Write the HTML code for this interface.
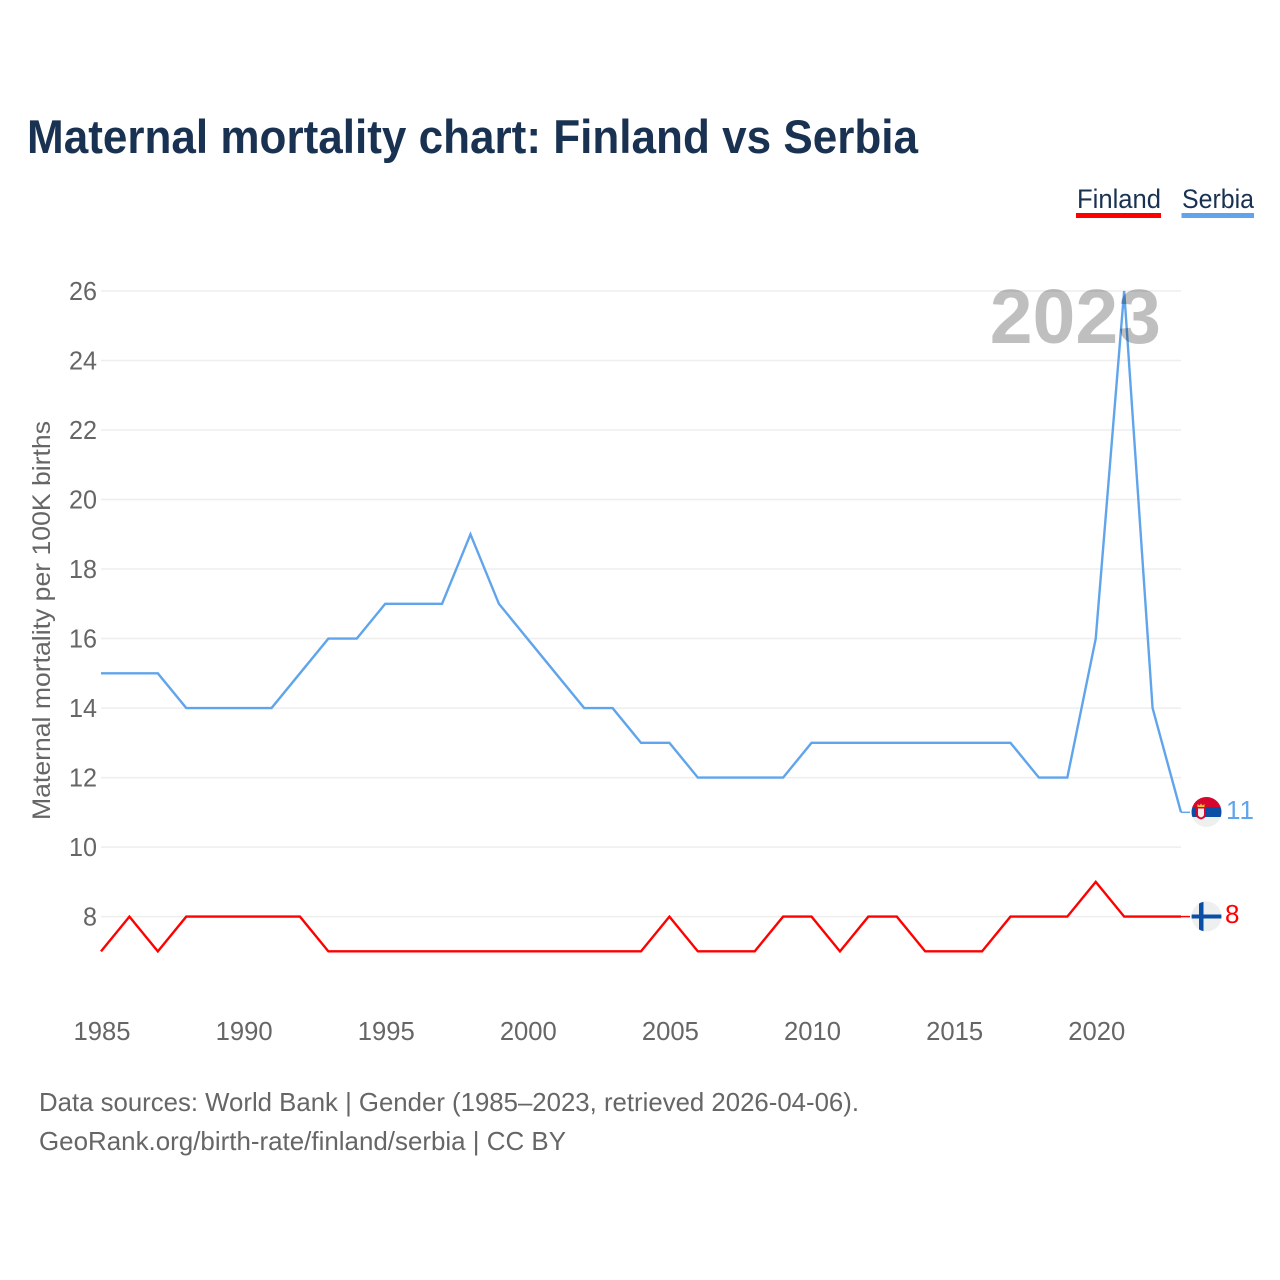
<!DOCTYPE html>
<html lang="en">
<head>
<meta charset="utf-8">
<title>Maternal mortality chart: Finland vs Serbia</title>
<style>
html,body{margin:0;padding:0;background:#fff;width:1280px;height:1280px;overflow:hidden}
svg{display:block;font-family:"Liberation Sans",sans-serif}
</style>
</head>
<body>
<svg id="chart" xmlns="http://www.w3.org/2000/svg" width="1280" height="1280" viewBox="0 0 1280 1280">
  <defs>
    <clipPath id="flag-clip-fi"><circle cx="1206.5" cy="916.5" r="15"/></clipPath>
    <clipPath id="flag-clip-rs"><circle cx="1206.5" cy="812" r="15"/></clipPath>
  </defs>
  <rect width="1280" height="1280" fill="#fff"/>
  <text x="27" y="153" font-size="47" font-weight="700" fill="#193251" textLength="891" lengthAdjust="spacingAndGlyphs">Maternal mortality chart: Finland vs Serbia</text>

  <g>
    <text x="1077" y="208" font-size="27" fill="#193251" textLength="84" lengthAdjust="spacingAndGlyphs">Finland</text>
    <rect x="1076" y="213" width="85" height="5" fill="#ff0000"/>
    <text x="1182" y="208" font-size="27" fill="#193251" textLength="72" lengthAdjust="spacingAndGlyphs">Serbia</text>
    <rect x="1181.5" y="213" width="72.5" height="5" fill="#60a5ec"/>
  </g>

  <g id="grid"></g>
  <g id="y-ticks"></g>
  <g id="x-ticks"></g>
  <text transform="translate(50,820) rotate(-90)" x="0" y="0" font-size="25" fill="#666" textLength="399" lengthAdjust="spacingAndGlyphs">Maternal mortality per 100K births</text>
  <g id="series"></g>
  <text x="1161" y="343" text-anchor="end" font-size="77" font-weight="700" fill="#000" fill-opacity="0.25">2023</text>

  <g id="flags">
    <g clip-path="url(#flag-clip-rs)">
      <rect x="1191" y="797" width="31" height="30" fill="#eef0f0"/>
      <rect x="1191" y="797" width="31" height="10" fill="#d6062f"/>
      <rect x="1191" y="807" width="31" height="10" fill="#0b4ea6"/>
      <path d="M1196 807h10v8q0 3-5 4.500q-5-1.500-5-4.500z" fill="#d6062f"/>
      <path d="M1198 808.500h6v6q0 2-3 3q-3-1-3-3z" fill="#f4eeee"/>
      <path d="M1197.500 807v-3l2 1.500l1.500-2l1.500 2l2-1.500v3z" fill="#f2c230"/>
    </g>
    <g clip-path="url(#flag-clip-fi)">
      <rect x="1191" y="901" width="31" height="31" fill="#eef0f0"/>
      <rect x="1199" y="901" width="4.500" height="31" fill="#0b4ea6"/>
      <rect x="1191" y="914.500" width="31" height="4" fill="#0b4ea6"/>
    </g>
  </g>
  <text id="end-serbia" x="1226" y="819" font-size="26" fill="#60a5ec" textLength="28" lengthAdjust="spacing"></text>
  <text id="end-finland" x="1225" y="923" font-size="26" fill="#ff0000"></text>

  <text x="39" y="1111" font-size="26" fill="#666" textLength="820" lengthAdjust="spacingAndGlyphs">Data sources: World Bank | Gender (1985–2023, retrieved 2026-04-06).</text>
  <text x="39" y="1150" font-size="26" fill="#666" textLength="527" lengthAdjust="spacingAndGlyphs">GeoRank.org/birth-rate/finland/serbia | CC BY</text>
</svg>
<script>
const years = [1985,1986,1987,1988,1989,1990,1991,1992,1993,1994,1995,1996,1997,1998,1999,2000,2001,2002,2003,2004,2005,2006,2007,2008,2009,2010,2011,2012,2013,2014,2015,2016,2017,2018,2019,2020,2021,2022,2023];
const finlandValues = [7,8,7,8,8,8,8,8,7,7,7,7,7,7,7,7,7,7,7,7,8,7,7,7,8,8,7,8,8,7,7,7,8,8,8,9,8,8,8];
const serbiaValues = [15,15,15,14,14,14,14,15,16,16,17,17,17,19,17,16,15,14,14,13,13,12,12,12,12,13,13,13,13,13,13,13,13,12,12,16,26,14,11];
const yTickValues = [8,10,12,14,16,18,20,22,24,26];
const xTickValues = [1985,1990,1995,2000,2005,2010,2015,2020];

const NS = 'http://www.w3.org/2000/svg';
function xScale(year){ return 101 + (year - 1985) * (1181 - 101) / (2023 - 1985); }
function yScale(value){ return 916.6 - (value - 8) * (916.6 - 291) / (26 - 8); }

const gridGroup = document.getElementById('grid');
const yTickGroup = document.getElementById('y-ticks');
const xTickGroup = document.getElementById('x-ticks');
const seriesGroup = document.getElementById('series');

yTickValues.forEach(function(v){
  const line = document.createElementNS(NS, 'line');
  
  
  line.setAttribute('x1', xScale(1985));
  line.setAttribute('x2', xScale(2023));
  line.setAttribute('y1', yScale(v));
  line.setAttribute('y2', yScale(v));
  line.setAttribute('stroke', '#eeeeee');
  line.setAttribute('stroke-width', '1.5');
  gridGroup.appendChild(line);

  const label = document.createElementNS(NS, 'text');
  
  
  label.setAttribute('x', 97);
  label.setAttribute('y', yScale(v) + 9);
  label.setAttribute('text-anchor', 'end');
  label.setAttribute('font-size', '26');
  label.setAttribute('fill', '#666');
  label.setAttribute('textLength', String(v).length * 14);
  label.setAttribute('lengthAdjust', 'spacingAndGlyphs');
  label.textContent = String(v);
  yTickGroup.appendChild(label);
});

xTickValues.forEach(function(yr){
  const label = document.createElementNS(NS, 'text');
  
  
  label.setAttribute('x', xScale(yr) + 1);
  label.setAttribute('y', 1040);
  label.setAttribute('text-anchor', 'middle');
  label.setAttribute('font-size', '26');
  label.setAttribute('fill', '#666');
  label.setAttribute('textLength', '57');
  label.setAttribute('lengthAdjust', 'spacingAndGlyphs');
  label.textContent = String(yr);
  xTickGroup.appendChild(label);
});

function linePoints(values){
  return values.map(function(v, i){ return xScale(years[i]) + ',' + yScale(v); }).join(' ');
}

const serbiaLine = document.createElementNS(NS, 'polyline');


serbiaLine.setAttribute('points', linePoints(serbiaValues));
serbiaLine.setAttribute('fill', 'none');
serbiaLine.setAttribute('stroke', '#60a5ec');
serbiaLine.setAttribute('stroke-width', '2.4');
serbiaLine.setAttribute('stroke-linejoin', 'miter');
seriesGroup.appendChild(serbiaLine);

const finlandLine = document.createElementNS(NS, 'polyline');


finlandLine.setAttribute('points', linePoints(finlandValues));
finlandLine.setAttribute('fill', 'none');
finlandLine.setAttribute('stroke', '#ff0000');
finlandLine.setAttribute('stroke-width', '2.4');
finlandLine.setAttribute('stroke-linejoin', 'miter');
seriesGroup.appendChild(finlandLine);

const lastSerbia = serbiaValues[serbiaValues.length - 1];
const lastFinland = finlandValues[finlandValues.length - 1];

const serbiaLead = document.createElementNS(NS, 'line');


serbiaLead.setAttribute('x1', xScale(2023));
serbiaLead.setAttribute('x2', xScale(2023) + 9);
serbiaLead.setAttribute('y1', yScale(lastSerbia));
serbiaLead.setAttribute('y2', yScale(lastSerbia));
serbiaLead.setAttribute('stroke', '#60a5ec');
serbiaLead.setAttribute('stroke-width', '1.5');
seriesGroup.appendChild(serbiaLead);

const finlandLead = document.createElementNS(NS, 'line');


finlandLead.setAttribute('x1', xScale(2023));
finlandLead.setAttribute('x2', xScale(2023) + 9);
finlandLead.setAttribute('y1', yScale(lastFinland));
finlandLead.setAttribute('y2', yScale(lastFinland));
finlandLead.setAttribute('stroke', '#ff0000');
finlandLead.setAttribute('stroke-width', '1.5');
seriesGroup.appendChild(finlandLead);

document.getElementById('end-serbia').textContent = String(lastSerbia);
document.getElementById('end-finland').textContent = String(lastFinland);
</script>
</body>
</html>
